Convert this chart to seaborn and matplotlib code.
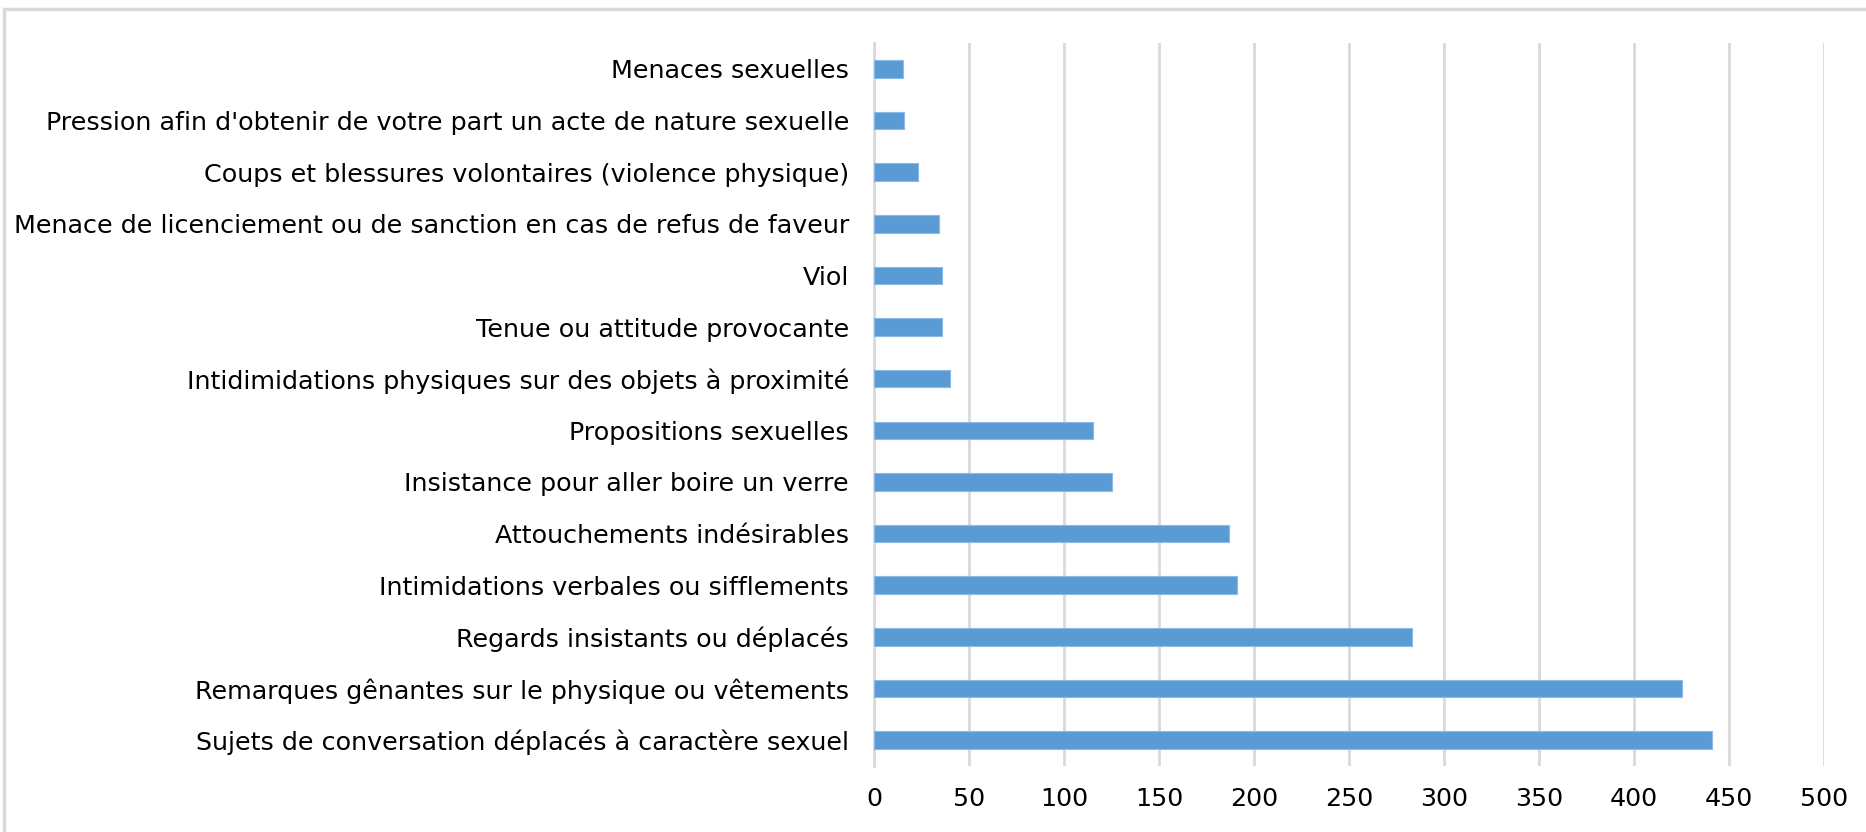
import matplotlib
matplotlib.use("Agg")
import matplotlib.pyplot as plt
import seaborn as sns
import pandas as pd
from matplotlib.patches import Rectangle

# categories, top to bottom as in the chart
categories = [
    "Menaces sexuelles",
    "Pression afin d'obtenir de votre part un acte de nature sexuelle",
    "Coups et blessures volontaires (violence physique)",
    "Menace de licenciement ou de sanction en cas de refus de faveur",
    "Viol",
    "Tenue ou attitude provocante",
    "Intidimidations physiques sur des objets à proximité",
    "Propositions sexuelles",
    "Insistance pour aller boire un verre",
    "Attouchements indésirables",
    "Intimidations verbales ou sifflements",
    "Regards insistants ou déplacés",
    "Remarques gênantes sur le physique ou vêtements",
    "Sujets de conversation déplacés à caractère sexuel",
]
counts = [15, 16, 23, 34, 36, 36, 40, 115, 125, 187, 191, 283, 425, 441]
x_ticks = [0, 50, 100, 150, 200, 250, 300, 350, 400, 450, 500]

df = pd.DataFrame({"categorie": categories, "nombre": counts})

sns.set_style("white")
plt.rcParams["font.family"] = ["DejaVu Sans"]

fig = plt.figure(figsize=(18.66, 8.32), dpi=100)
ax = fig.add_axes([874 / 1866, 1 - 766 / 832, (1824 - 874) / 1866, (766 - 43) / 832])

sns.barplot(data=df, x="nombre", y="categorie", orient="h", color="#5B9BD5",
            saturation=1, width=0.34, edgecolor="#8DB9E6", linewidth=0.8, ax=ax, zorder=3)

ax.set_xlim(0, 500)
ax.set_xticks(x_ticks)
ax.set_xlabel("")
ax.set_ylabel("")
ax.grid(axis="x", color="#D9D9D9", linewidth=2, zorder=0)
ax.set_axisbelow(True)
for side in ["top", "right", "bottom"]:
    ax.spines[side].set_visible(False)
ax.spines["left"].set_color("#D9D9D9")
ax.spines["left"].set_linewidth(2)
ax.tick_params(axis="both", length=0, colors="black", labelsize=18.3)
ax.tick_params(axis="y", pad=18)
ax.tick_params(axis="x", pad=15)

# outer chart border
fig.patches.append(Rectangle((4 / 1866, -0.1), 1.2, 1.1 - 9 / 832, transform=fig.transFigure,
                             fill=False, edgecolor="#D9D9D9", linewidth=2.5))

fig.savefig("out.png", dpi=100)
